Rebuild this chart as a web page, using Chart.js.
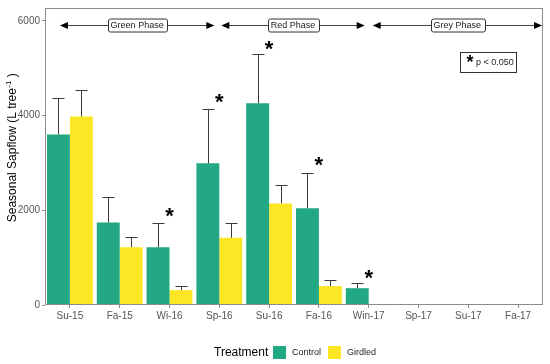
<!DOCTYPE html>
<html>
<head>
<meta charset="utf-8">
<script src="https://cdn.jsdelivr.net/npm/chart.js@4.4.1/dist/chart.umd.min.js"></script>
<style>
  html, body { margin: 0; padding: 0; background: #fff; }
  #wrap { width: 550px; height: 364px; }
</style>
</head>
<body>
<div id="wrap"><canvas id="c"></canvas></div>
<script>
var seasons = ['Su-15', 'Fa-15', 'Wi-16', 'Sp-16', 'Su-16', 'Fa-16', 'Win-17', 'Sp-17', 'Su-17', 'Fa-17'];
var controlMean  = [3600, 1740, 1220, 2990, 4260, 2040, 355, null, null, null];
var controlUpper = [4360, 2290, 1740, 4140, 5290, 2795, 455, null, null, null];
var girdledMean  = [3980, 1220, 315, 1420, 2145, 400, 20, null, null, null];
var girdledUpper = [4530, 1430, 405, 1740, 2540, 525, null, null, null, null];
var yTicks = [0, 2000, 4000, 6000];

// significance stars (season, height in L tree-1)
var sigSeasons = ['Wi-16', 'Sp-16', 'Su-16', 'Fa-16', 'Win-17'];
var sigHeight  = [1950, 4370, 5470, 3040, 650];

// phase arrows, in category index units
var phaseNames = ['Green Phase', 'Red Phase', 'Grey Phase'];
var phaseFrom  = [-0.2, 3.04, 6.08];
var phaseTo    = [2.9, 5.92, 9.48];
var phaseLevel = 5910;

var GREEN = '#22a884';
var YELLOW = '#fde725';
var FONT = "'Liberation Sans', Arial, sans-serif";

function star(ctx, x, y, size)
{
        ctx.font = 'bold ' + size + 'px ' + FONT;
        var m = ctx.measureText('*');
        var base = y + (m.actualBoundingBoxAscent - m.actualBoundingBoxDescent) / 2;
        ctx.textAlign = 'center';
        ctx.textBaseline = 'alphabetic';
        ctx.fillText('*', x, base);
}

var extras = {
        id: 'extras',
        afterDatasetsDraw: function(chart)
        {
                var ctx = chart.ctx;
                var a = chart.chartArea;
                var xs = chart.scales.x;
                var ys = chart.scales.y;
                ctx.save();

                // panel border
                ctx.strokeStyle = '#8c8c8c';
                ctx.lineWidth = 1;
                ctx.strokeRect(a.left + 0.5, a.top + 0.5, a.right - a.left - 1, a.bottom - a.top - 1);

                // error bars (upper only)
                var uppers = [controlUpper, girdledUpper];
                var means = [controlMean, girdledMean];
                ctx.strokeStyle = '#3a3a3a';
                for(var d = 0; d < 2; d++)
                {
                        var meta = chart.getDatasetMeta(d);
                        for(var j = 0; j < seasons.length; j++)
                        {
                                if(uppers[d][j] === null || means[d][j] === null)
                                        continue;
                                var x = Math.round(meta.data[j].x) + 0.5;
                                var y0 = ys.getPixelForValue(means[d][j]);
                                var y1 = Math.round(ys.getPixelForValue(uppers[d][j])) + 0.5;
                                ctx.beginPath();
                                ctx.moveTo(x, y0);
                                ctx.lineTo(x, y1);
                                ctx.moveTo(x - 6, y1);
                                ctx.lineTo(x + 6, y1);
                                ctx.stroke();
                        }
                }

                // stars
                ctx.fillStyle = '#000';
                for(var s = 0; s < sigSeasons.length; s++)
                {
                        var sx = xs.getPixelForValue(seasons.indexOf(sigSeasons[s]));
                        star(ctx, sx, ys.getPixelForValue(sigHeight[s]), 22);
                }

                // phase arrows
                var py = Math.round(ys.getPixelForValue(phaseLevel)) + 0.5;
                for(var p = 0; p < phaseNames.length; p++)
                {
                        var x1 = xs.getPixelForValue(phaseFrom[p]);
                        var x2 = xs.getPixelForValue(phaseTo[p]);
                        ctx.strokeStyle = '#444';
                        ctx.beginPath();
                        ctx.moveTo(x1 + 6, py);
                        ctx.lineTo(x2 - 6, py);
                        ctx.stroke();
                        ctx.fillStyle = '#000';
                        ctx.beginPath();
                        ctx.moveTo(x1, py);
                        ctx.lineTo(x1 + 8, py - 3.5);
                        ctx.lineTo(x1 + 8, py + 3.5);
                        ctx.closePath();
                        ctx.fill();
                        ctx.beginPath();
                        ctx.moveTo(x2, py);
                        ctx.lineTo(x2 - 8, py - 3.5);
                        ctx.lineTo(x2 - 8, py + 3.5);
                        ctx.closePath();
                        ctx.fill();

                        ctx.font = '9px ' + FONT;
                        var tw = ctx.measureText(phaseNames[p]).width;
                        var mid = (x1 + x2) / 2;
                        var bx = Math.round(mid - tw / 2 - 3) + 0.5;
                        var bw = Math.round(tw + 6);
                        ctx.beginPath();
                        ctx.roundRect(bx, py - 6.5, bw, 13, 2);
                        ctx.fillStyle = '#fff';
                        ctx.fill();
                        ctx.strokeStyle = '#333';
                        ctx.stroke();
                        ctx.fillStyle = '#222';
                        ctx.textAlign = 'center';
                        ctx.textBaseline = 'middle';
                        ctx.fillText(phaseNames[p], mid, py + 0.5);
                }

                // p-value key
                ctx.strokeStyle = '#333';
                ctx.fillStyle = '#fff';
                ctx.fillRect(460.5, 52.5, 56, 20);
                ctx.strokeRect(460.5, 52.5, 56, 20);
                ctx.fillStyle = '#000';
                star(ctx, 470, 63, 18);
                ctx.font = '9px ' + FONT;
                ctx.textAlign = 'left';
                ctx.textBaseline = 'middle';
                ctx.fillStyle = '#222';
                ctx.fillText('p < 0.050', 476, 62.5);

                // y axis title with superscript
                ctx.translate(12, 148);
                ctx.rotate(-Math.PI / 2);
                ctx.fillStyle = '#000';
                ctx.textBaseline = 'alphabetic';
                ctx.textAlign = 'left';
                var mainTxt = 'Seasonal Sapflow (L tree';
                ctx.font = '12px ' + FONT;
                var w1 = ctx.measureText(mainTxt).width;
                var w3 = ctx.measureText(' )').width;
                ctx.font = '8px ' + FONT;
                var w2 = ctx.measureText('-1').width;
                var start = -(w1 + w2 + w3) / 2;
                ctx.font = '12px ' + FONT;
                ctx.fillText(mainTxt, start, 4);
                ctx.font = '8px ' + FONT;
                ctx.fillText('-1', start + w1 + 0.5, -1);
                ctx.font = '12px ' + FONT;
                ctx.fillText(' )', start + w1 + w2 + 0.5, 4);
                ctx.restore();

                // treatment legend
                ctx.save();
                ctx.fillStyle = '#000';
                ctx.font = '12px ' + FONT;
                ctx.textAlign = 'left';
                ctx.textBaseline = 'middle';
                ctx.fillText('Treatment', 214, 353);
                ctx.fillStyle = GREEN;
                ctx.fillRect(273, 346, 13, 13);
                ctx.fillStyle = YELLOW;
                ctx.fillRect(328, 346, 13, 13);
                ctx.fillStyle = '#222';
                ctx.font = '9px ' + FONT;
                ctx.fillText('Control', 292, 353);
                ctx.fillText('Girdled', 347, 353);
                ctx.restore();
        }
};

new Chart(document.getElementById('c').getContext('2d'), {
        type: 'bar',
        data: {
                labels: seasons,
                datasets: [
                        { label: 'Control', data: controlMean, backgroundColor: GREEN, borderWidth: 0,
                          categoryPercentage: 0.92, barPercentage: 1 },
                        { label: 'Girdled', data: girdledMean, backgroundColor: YELLOW, borderWidth: 0,
                          categoryPercentage: 0.92, barPercentage: 1 }
                ]
        },
        options: {
                responsive: true,
                maintainAspectRatio: false,
                devicePixelRatio: 1,
                animation: false,
                layout: { padding: { left: 0, right: 7, top: 6, bottom: 0 } },
                plugins: { legend: { display: false }, tooltip: { enabled: false } },
                scales: {
                        x: {
                                offset: true,
                                border: { display: false },
                                grid: { offset: false, drawOnChartArea: false, drawTicks: true, tickLength: 3, color: '#8c8c8c' },
                                ticks: { color: '#555', font: { family: FONT, size: 10 }, padding: 2, maxRotation: 0, autoSkip: false },
                                afterFit: function(scale) { scale.height = 59; }
                        },
                        y: {
                                min: 0,
                                max: 6270,
                                border: { display: false },
                                grid: { drawOnChartArea: false, drawTicks: true, tickLength: 3, color: '#8c8c8c' },
                                ticks: { color: '#555', font: { family: FONT, size: 10 }, padding: 2,
                                         callback: function(v) { return String(v); } },
                                afterBuildTicks: function(scale) {
                                        scale.ticks = yTicks.map(function(v) { return { value: v }; });
                                },
                                afterFit: function(scale) { scale.width = 45; }
                        }
                }
        },
        plugins: [extras]
});
</script>
</body>
</html>
